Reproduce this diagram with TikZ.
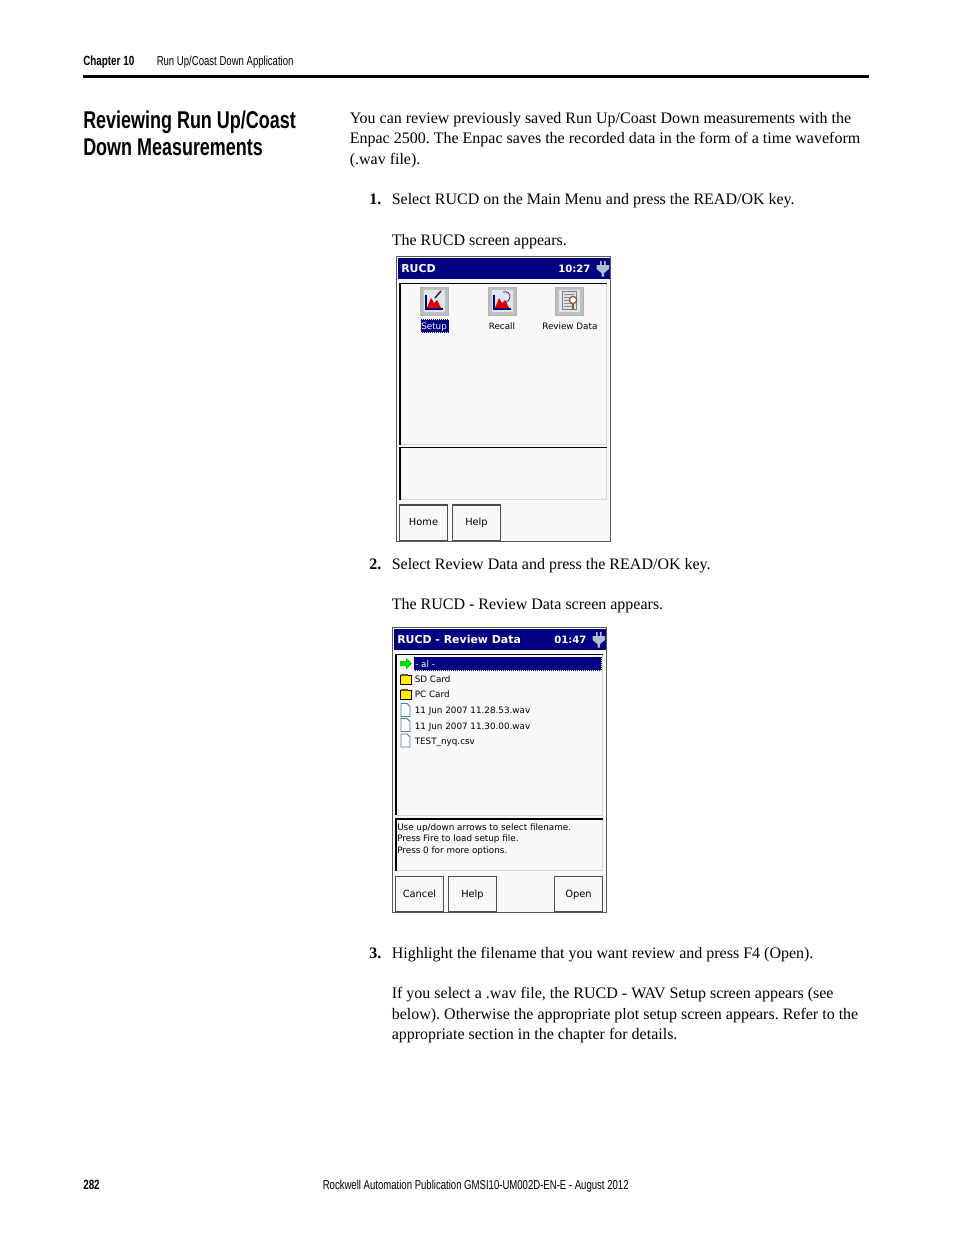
\documentclass[tikz,border=0pt]{standalone}
\usepackage{fontspec}
\setmainfont{Liberation Serif}
\newfontfamily\headfont[FakeStretch=0.74]{Liberation Sans}
\newfontfamily\screenfont{DejaVu Sans}
\frenchspacing
\definecolor{barblue}{RGB}{0,0,128}
\definecolor{panelgrey}{RGB}{248,248,248}
\definecolor{edgegrey}{RGB}{214,214,214}
\definecolor{folderyellow}{RGB}{255,240,0}
\definecolor{plugblue}{RGB}{176,190,205}
\definecolor{iconback}{RGB}{222,230,240}
\definecolor{fileteal}{RGB}{70,130,140}
\tikzset{
  bodytext/.style={anchor=base west,inner sep=0pt,font=\fontsize{12}{15}\selectfont},
  numtext/.style={anchor=base west,inner sep=0pt,font=\fontsize{12}{15}\selectfont\bfseries},
  headtext/.style={anchor=base west,inner sep=0pt,font=\headfont\fontsize{18.2}{20}\selectfont\bfseries},
  smalltext/.style={anchor=base west,inner sep=0pt,font=\headfont\fontsize{9.7}{11}\selectfont},
  smallbold/.style={anchor=base west,inner sep=0pt,font=\headfont\fontsize{10}{11}\selectfont\bfseries},
  screentext/.style={anchor=base west,inner sep=0pt,font=\screenfont\fontsize{6.6}{8}\selectfont},
  titletext/.style={anchor=base west,inner sep=0pt,text=white,font=\screenfont\fontsize{8.2}{9}\selectfont\bfseries},
  timetext/.style={anchor=base west,inner sep=0pt,text=white,font=\screenfont\fontsize{7.6}{9}\selectfont\bfseries},
  keytext/.style={anchor=base,inner sep=0pt,font=\screenfont\fontsize{7.4}{9}\selectfont},
  screenbox/.style={draw=black!65,fill=panelgrey,line width=0.75pt},
  titlebar/.style={fill=barblue},
  panelbox/.style={draw=edgegrey,fill=panelgrey,line width=0.75pt},
  keybox/.style={draw=black!70,fill=panelgrey,line width=0.9pt},
  iconbox/.style={draw=black!30,fill=black!25,line width=0.5pt},
  foldericon/.style={draw=black,fill=folderyellow,line width=0.7pt},
  fileicon/.style={draw=fileteal,fill=white,line width=0.6pt},
  plugicon/.style={fill=plugblue},
}
\begin{document}
\begin{tikzpicture}[x=0.75pt,y=0.75pt,yscale=-1,xscale=1]
    \useasboundingbox (0,0) rectangle (954,1235);
    \fill [white] (0,0) rectangle (954,1235);

    % Page head
    \node [smallbold] (chapter) at (83,65) {Chapter 10};
    \node [smalltext] (runhead) at (156.5,65) {Run Up/Coast Down Application};
    \draw [line width=2.25pt] (83,76.5) -- (869,76.5);
    \node [headtext] (headone) at (83,128.5) {Reviewing Run Up/Coast};
    \node [headtext] (headtwo) at (83,155.5) {Down Measurements};

    % Intro
    \node [bodytext] (introa) at (349.5,123) {You can review previously saved Run Up/Coast Down measurements with the};
    \node [bodytext] (introb) at (349.5,143.5) {Enpac 2500. The Enpac saves the recorded data in the form of a time waveform};
    \node [bodytext] (introc) at (349.5,164) {(.wav file).};

    % Step 1
    \node [numtext] (numone) at (369,204) {1.};
    \node [bodytext] (stepone) at (391.5,204) {Select RUCD on the Main Menu and press the READ/OK key.};
    \node [bodytext] (steponeb) at (391.5,245) {The RUCD screen appears.};

    % Screen: RUCD
    \draw [screenbox] (396.5,256) rectangle (610.5,541.5);
    \fill [titlebar] (398,258) rectangle (610,279);
    \node [titletext] (rucdtitle) at (401,272) {RUCD};
    \node [timetext] (rucdtime) at (558,272) {10:27};
    \fill [plugicon] (600,261) rectangle (601.5,265) (604,261) rectangle (605.5,265);
    \fill [plugicon] (596.5,265) -- (609,265) -- (609,269) -- (604,273) -- (604,276.5) -- (601.5,276.5) -- (601.5,273) -- (596.5,269) -- cycle;
    \draw [panelbox] (400,283.5) rectangle (606.5,444.5);
    \draw [black,line width=0.9pt] (400,444.5) -- (400,283.5) -- (606.5,283.5);
    \draw [panelbox] (400,447.5) rectangle (606.5,499.5);
    \draw [black,line width=0.9pt] (400,499.5) -- (400,447.5) -- (606.5,447.5);
    % Setup icon
    \draw [iconbox] (420.5,287) rectangle (448.5,315.5);
    \fill [iconback] (424,290) rectangle (445,312);
    \draw [barblue,line width=1pt] (426,295) -- (426,309) -- (443,309);
    \fill [red!85!black] (427,308) -- (431,298) -- (434,303) -- (437,300) -- (441,308) -- cycle;
    \draw [black!80,line width=1.2pt] (435,298) -- (441,291);
    % Recall icon
    \draw [iconbox] (488.5,287) rectangle (516.5,315.5);
    \fill [iconback] (492,290) rectangle (513,312);
    \draw [barblue,line width=1pt] (494,295) -- (494,309) -- (511,309);
    \fill [red!85!black] (495,308) -- (499,298) -- (502,303) -- (505,300) -- (509,308) -- cycle;
    \draw [violet,line width=0.6pt] (503,292) .. controls (512,290) and (512,300) .. (505,303);
    % Review Data icon
    \draw [iconbox] (555.5,287) rectangle (583.5,315.5);
    \fill [iconback] (559,290) rectangle (580,312);
    \draw [black!50,fill=black!12] (562,291) rectangle (576,309);
    \foreach \ly in {294,297,300,303,306} {
      \draw [black!45,line width=0.4pt] (564,\ly) -- (574,\ly);
    }
    \draw [brown!70!black,fill=white,line width=0.9pt] (573,300) circle (3.6);
    \draw [brown!70!black,line width=1.4pt] (573,304) -- (573,310);
    \fill [barblue] (420.5,319) rectangle (449,332.5);
    \draw [white,densely dotted,line width=0.5pt] (420.5,319) rectangle (449,332.5);
    \node [screentext,text=white] (setuplabel) at (421,329) {Setup};
    \node [screentext] (recalllabel) at (488.5,329) {Recall};
    \node [screentext] (reviewlabel) at (542,329) {Review Data};
    \draw [keybox] (399.5,505) rectangle (447.5,540.5);
    \draw [keybox] (452.5,505) rectangle (500.5,540.5);
    \node [keytext] (homekey) at (423.5,525.5) {Home};
    \node [keytext] (helpkey) at (476.5,525.5) {Help};

    % Step 2
    \node [numtext] (numtwo) at (369,569) {2.};
    \node [bodytext] (steptwo) at (391.5,569) {Select Review Data and press the READ/OK key.};
    \node [bodytext] (steptwob) at (391.5,609) {The RUCD - Review Data screen appears.};

    % Screen: RUCD - Review Data
    \draw [screenbox] (392.5,627) rectangle (606.5,912.5);
    \fill [titlebar] (394,629) rectangle (606,650);
    \node [titletext] (reviewtitle) at (397,643) {RUCD - Review Data};
    \node [timetext] (reviewtime) at (554,643) {01:47};
    \fill [plugicon] (596,632) rectangle (597.5,636) (600,632) rectangle (601.5,636);
    \fill [plugicon] (592.5,636) -- (605,636) -- (605,640) -- (600,644) -- (600,647.5) -- (597.5,647.5) -- (597.5,644) -- (592.5,640) -- cycle;
    \draw [panelbox] (396,654.5) rectangle (602.5,815);
    \draw [black,line width=0.9pt] (396,815) -- (396,654.5) -- (602.5,654.5);
    \draw [panelbox] (396,819) rectangle (602.5,870.5);
    \draw [black,line width=0.9pt] (396,870.5) -- (396,819) -- (602.5,819);
    \fill [barblue] (413.5,656.5) rectangle (601.5,670.5);
    \draw [white,densely dotted,line width=0.5pt] (413.5,656.5) rectangle (601.5,670.5);
    \fill [green!85!black] (400,661) -- (406,661) -- (406,657.5) -- (412,663.5) -- (406,669.5) -- (406,666) -- (400,666) -- cycle;
    \foreach \fy in {674,689} {
      \draw [foldericon] (400,\fy+1.5) rectangle (411,\fy+10.5);
      \fill [brown!60!black] (401,\fy) rectangle (408,\fy+1.5);
    }
    \foreach \fy in {703.5,718.5,734} {
      \draw [fileicon] (401,\fy) -- (407,\fy) -- (410,\fy+3) -- (410,\fy+13) -- (401,\fy+13) -- cycle;
    }
    \node [screentext,text=white] (allrow) at (415,667) {- al -};
    \node [screentext] (sdrow) at (414.5,682.5) {SD Card};
    \node [screentext] (pcrow) at (414.5,697.5) {PC Card};
    \node [screentext] (wavone) at (414.5,713.5) {11 Jun 2007 11.28.53.wav};
    \node [screentext] (wavtwo) at (414.5,729) {11 Jun 2007 11.30.00.wav};
    \node [screentext] (csvrow) at (414.5,744) {TEST\_nyq.csv};
    \node [screentext] (hintone) at (397,830) {Use up/down arrows to select filename.};
    \node [screentext] (hinttwo) at (397,841.5) {Press Fire to load setup file.};
    \node [screentext] (hintthree) at (397,853) {Press 0 for more options.};
    \draw [keybox] (395.5,876.5) rectangle (443.5,911.5);
    \draw [keybox] (448.5,876.5) rectangle (496.5,911.5);
    \draw [keybox] (554.5,876.5) rectangle (602.5,911.5);
    \node [keytext] (cancelkey) at (419.5,897) {Cancel};
    \node [keytext] (helpkeyb) at (472.5,897) {Help};
    \node [keytext] (openkey) at (578.5,897) {Open};

    % Step 3
    \node [numtext] (numthree) at (369,958) {3.};
    \node [bodytext] (stepthree) at (391.5,958) {Highlight the filename that you want review and press F4 (Open).};
    \node [bodytext] (stepthreeb) at (391.5,998) {If you select a .wav file, the RUCD - WAV Setup screen appears (see};
    \node [bodytext] (stepthreec) at (391.5,1019) {below). Otherwise the appropriate plot setup screen appears. Refer to the};
    \node [bodytext] (stepthreed) at (391.5,1039.5) {appropriate section in the chapter for details.};

    % Page foot
    \node [smallbold] (pagenum) at (83,1189) {282};
    \node [smalltext] (footer) at (322.5,1189) {Rockwell Automation Publication GMSI10-UM002D-EN-E - August 2012};
\end{tikzpicture}
\end{document}
